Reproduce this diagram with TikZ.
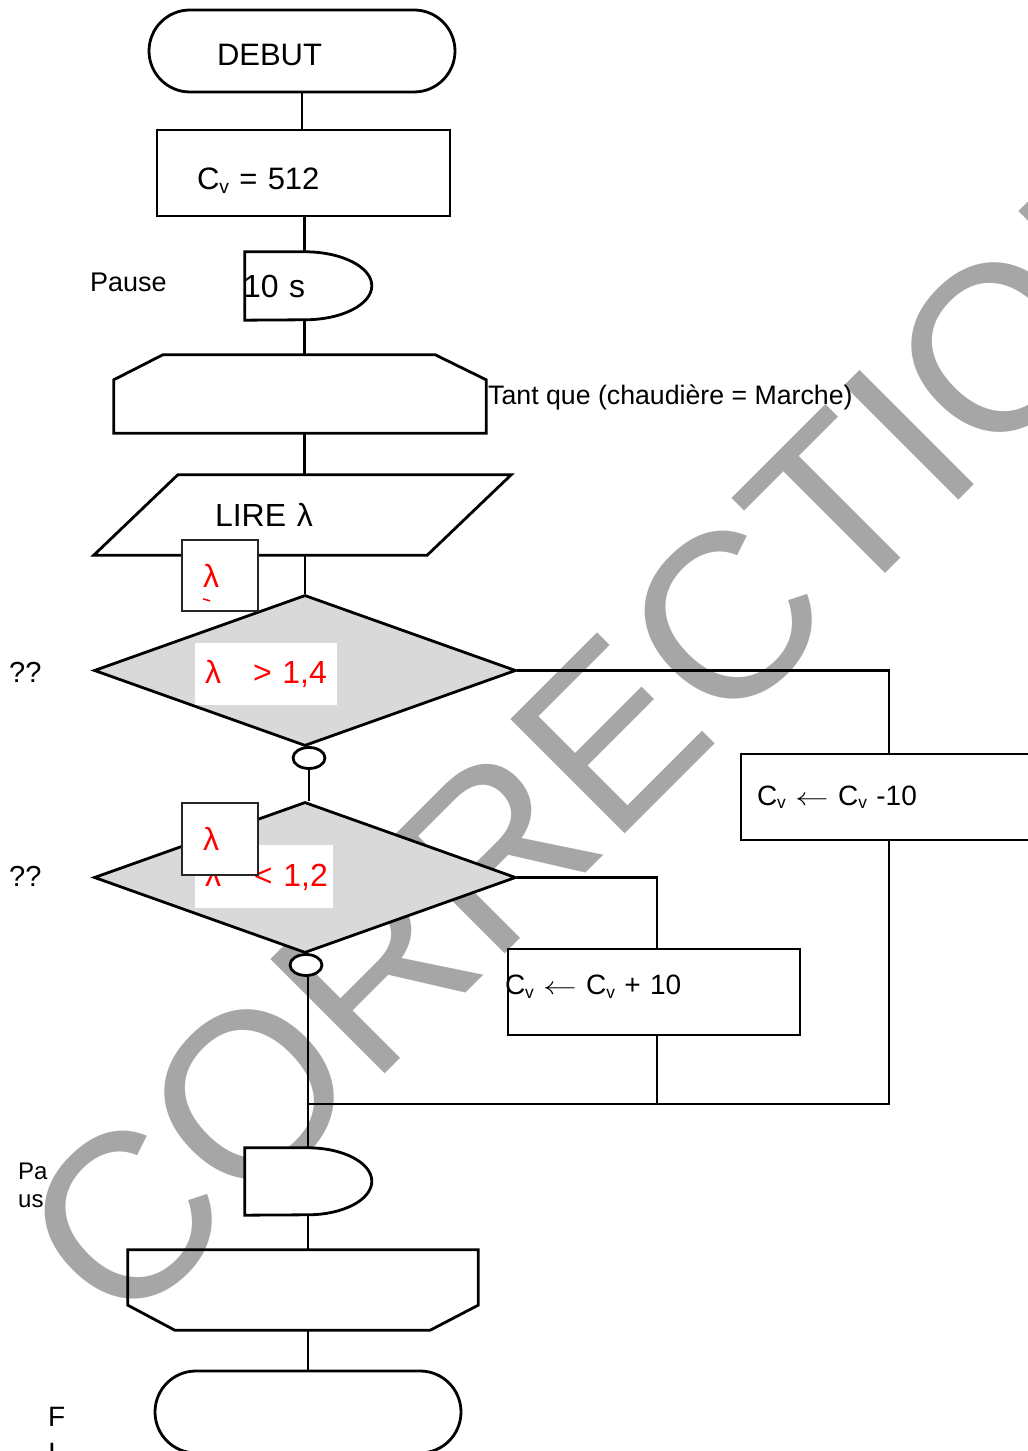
\documentclass[tikz,border=0pt]{standalone}
\usepackage{fontspec}
\setmainfont{Liberation Sans}
\usetikzlibrary{shapes.geometric, positioning, calc, backgrounds}
\definecolor{testgray}{RGB}{217,217,217}
\definecolor{markgray}{RGB}{166,166,166}
\newcommand{\sz}[1]{\fontsize{#1}{#1}\selectfont}
\newcommand{\Cv}{C\raisebox{-0.12em}{\scalebox{0.62}{v}}}
\newcommand{\getsto}{\scalebox{1.35}[1]{$\leftarrow$}}

\tikzset{
  flow/.style={line width=2.8pt},
  termbox/.style={draw, flow, rectangle, rounded corners=41pt, minimum width=306pt, minimum height=82pt, inner sep=0pt, font=\sz{31}},
  procbox/.style={draw, flow, fill=white, rectangle, minimum height=86pt, inner ysep=0pt, font=\sz{28}, align=left},
  holder/.style={rectangle, inner sep=0pt, align=left},
  testbox/.style={draw, flow, diamond, fill=testgray, minimum width=422pt, minimum height=151pt, inner sep=0pt},
  condbox/.style={fill=white, text=red, inner ysep=0pt, align=left, font=\sz{32}},
  lambox/.style={draw=black!85, line width=1.8pt, fill=white, minimum width=76pt, minimum height=71pt, text=red, font=\sz{32}, inner ysep=0pt, align=left},
  junction/.style={draw, flow, ellipse, fill=white, minimum width=32pt, minimum height=21pt, inner sep=0pt},
  lbl/.style={anchor=base west, inner sep=0pt},
  wmark/.style={anchor=base west, rotate=45, text=markgray, font=\sz{235}, inner sep=0pt}
}

\begin{document}
\begin{tikzpicture}[x=1pt, y=1pt]
    \useasboundingbox (0,0) rectangle (1028,1451);

    % Watermark
    \begin{scope}[on background layer]
        \node[wmark] (wm) at (122,114) {CORRECTION};
    \end{scope}

    % Start and init
    \node[termbox, text width=170pt, inner xsep=68pt, align=left, text height=30pt, text depth=0pt] (debut) at (302,1400) {DEBUT};
    \node[procbox, minimum width=293pt, text width=213pt, inner xsep=40pt, font=\sz{31}, text height=34pt, text depth=0pt] (init) at (303.5,1278) {\Cv{} = 512};

    % First pause
    \node[holder, minimum width=127pt, minimum height=68pt, text width=127pt, font=\sz{32}] (p1) at (308.5,1165) {\hspace*{-2pt}10 s};
    \node[lbl, font=\sz{27}] (p1lbl) at (90,1159) {Pause};

    % Loop head
    \node[holder, minimum width=372pt, minimum height=78pt] (tq) at (300,1057) {};
    \draw[flow] (tq.south west) -- ($(tq.north west)+(0,-25)$) -- ($(tq.north west)+(49,0)$)
        -- ($(tq.north east)+(-51,0)$) -- ($(tq.north east)+(0,-25)$) -- (tq.south east) -- cycle;
    \node[lbl, font=\sz{26.7}] (tqlbl) at (488,1046) {Tant que (chaudière = Marche)};

    % Input
    \node[holder, minimum width=333pt, minimum height=80pt, text width=175pt, inner xsep=79pt, font=\sz{32}] (lire) at (302.5,936) {LIRE λ};
    \draw[flow] ($(lire.north west)+(42,0)$) -- ($(lire.north east)+(42,0)$)
        -- ($(lire.south east)+(-42,0)$) -- ($(lire.south west)+(-42,0)$) -- cycle;

    % Tests
    \node[testbox] (d1) at (305,780.5) {};
    \node[condbox, minimum width=142pt, minimum height=62pt, text width=122pt, inner xsep=10pt] (t1) at (266,777) {\mbox{λ\hspace{32pt}> 1,4}};
    \node[lambox, text width=34pt, inner xsep=21pt] (lam1) at (220,875.5) {λ};
    \draw[red, line width=1.5pt] ($(lam1.south west)+(22,13)$) -- ++(7,-2);
    \node[junction] (c1) at (309,693) {};

    \node[testbox] (d2) at (305,573.5) {};
    \node[condbox, minimum width=138pt, minimum height=63pt, text width=118pt, inner xsep=10pt] (t2) at (264,574.5) {\mbox{λ\hspace{33pt}< 1,2}};
    \node[lambox, minimum height=72pt, text width=34pt, inner xsep=21pt] (lam2) at (220,612) {λ};
    \node[junction] (c2) at (306,486) {};

    \foreach \y [count=\i] in {768,564} {
        \node[lbl, font=\sz{29}] (q\i) at (9,\y) {??};
    }

    % Actions
    \node[procbox, minimum width=296pt, text width=264pt, inner xsep=16pt] (m10) at (889,654) {\Cv{} \getsto{} \Cv{} -10};
    \node[procbox, minimum width=292pt, text width=292pt, inner xsep=0pt, text depth=14pt] (p10) at (654,459) {\hspace*{-3pt}\Cv{} \getsto{} \Cv{} + 10};
    \coordinate (j1) at (308,347);

    % Second pause
    \node[holder, minimum width=127pt, minimum height=67pt] (p2) at (308.5,269.5) {};
    \node[lbl, font=\sz{24}] (p2a) at (18,271) {Pa};
    \node[lbl, font=\sz{24}] (p2b) at (18,243) {us};

    % Loop end and stop
    \node[holder, minimum width=350pt, minimum height=80pt] (tqe) at (303,161) {};
    \draw[flow] (tqe.north west) -- (tqe.north east) -- ($(tqe.south east)+(0,25)$) -- ($(tqe.south east)+(-48,0)$)
        -- ($(tqe.south west)+(47,0)$) -- ($(tqe.south west)+(0,25)$) -- cycle;
    \node[termbox] (fin) at (308,39) {};
    \node[lbl, font=\sz{28}] (finF) at (48,24) {F};
    \node[lbl, font=\sz{28}] (finI) at (48,-11) {I};

    % Pause outlines
    \begin{scope}[on background layer]
        \draw[flow, fill=white] (p1.north west) -- ++(60,0) arc[start angle=90, end angle=-90, x radius=67pt, y radius=34pt] -- (p1.south west) -- cycle;
        \draw[flow, fill=white] (p2.north west) -- ++(63,0) arc[start angle=90, end angle=-90, x radius=64pt, y radius=33.5pt] -- (p2.south west) -- cycle;
    \end{scope}

    % Connectors
    \draw[flow] (debut.south) -- (debut.south |- init.north);
    \draw[flow] ($(p1.north west)+(60,0)$) coordinate (p1in) -- (p1in |- init.south);
    \draw[flow] ($(p1.south west)+(60,0)$) coordinate (p1out) -- (p1out |- tq.north);
    \draw[flow] (p1out |- tq.south) -- (p1out |- lire.north);
    \draw[flow] (d1.north |- lire.south) -- (d1.north);
    \draw[flow] (c1.south) -- (c1.south |- d2.north);
    \draw[flow] (d1.east) -| (m10.north);
    \draw[flow] (d2.east) -| ([xshift=3pt]p10.north);
    \draw[flow] (m10.south) |- (j1);
    \draw[flow] ([xshift=3pt]p10.south) -- ([xshift=3pt]p10.south |- j1);
    \draw[flow] (j1 |- c2.south) -- (j1 |- p2.north);
    \draw[flow] (j1 |- p2.south) -- (j1 |- tqe.north);
    \draw[flow] (fin.north) -- (fin.north |- tqe.south);
\end{tikzpicture}
\end{document}
